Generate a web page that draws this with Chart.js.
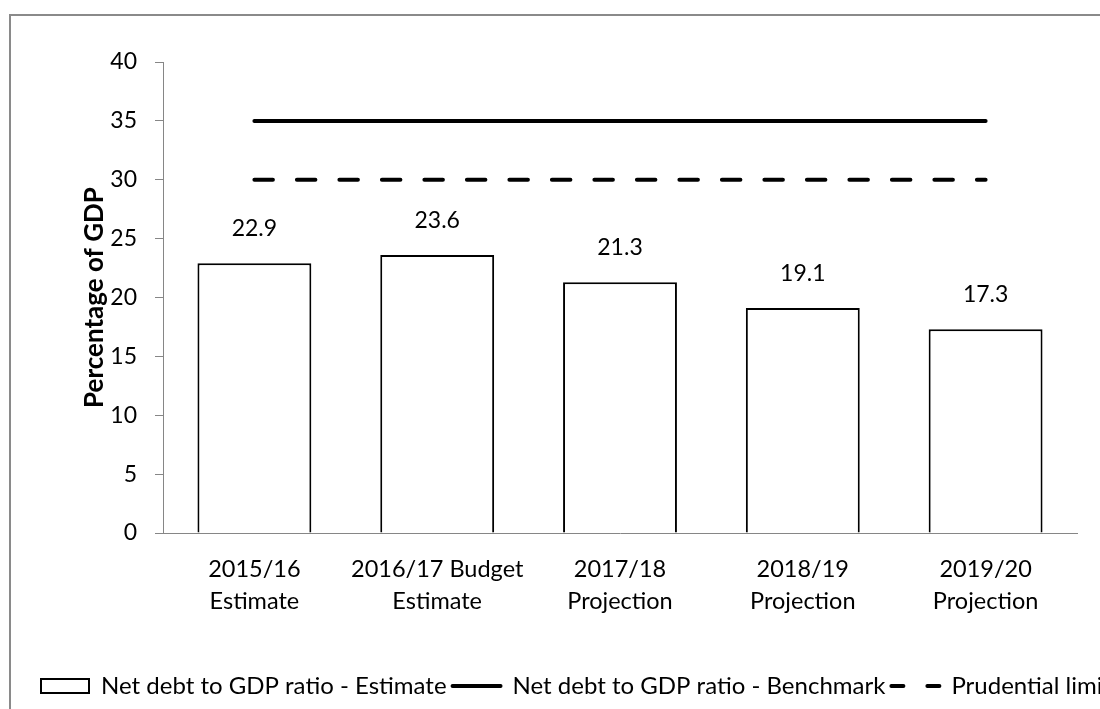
<!DOCTYPE html>
<html>
<head>
<meta charset="utf-8">
<script src="https://cdn.jsdelivr.net/npm/chart.js@4/dist/chart.umd.min.js"></script>
<style>
  html, body { margin: 0; padding: 0; background: #fff; overflow: hidden; }
  canvas { display: block; }
</style>
</head>
<body>
<canvas id="c" width="1300" height="740"></canvas>
<script>
// Net debt to GDP, percent
const categories = [
  ['2015/16', 'Estimate'],
  ['2016/17 Budget', 'Estimate'],
  ['2017/18', 'Projection'],
  ['2018/19', 'Projection'],
  ['2019/20', 'Projection']
];
const estimateValues = [22.9, 23.6, 21.3, 19.1, 17.3];
const benchmarkValues = [35, 35, 35, 35, 35];
const prudentialValues = [30, 30, 30, 30, 30];
const yTicks = [0, 5, 10, 15, 20, 25, 30, 35, 40];

const seriesNames = [
  'Net debt to GDP ratio - Estimate',
  'Net debt to GDP ratio - Benchmark',
  'Prudential limit'
];

const FONT = 'Lato, "Open Sans", sans-serif';
const AXIS_GREY = '#868686';
const CANVAS_W = 1300;
const PLOT_RIGHT = 1077;
const LEGEND_FONT = 24;
const LEGEND_PAD = 6;

// Grey outer frame of the chart object
const framePlugin = {
  id: 'frame',
  beforeDraw(chart) {
    const ctx = chart.ctx;
    ctx.save();
    ctx.strokeStyle = '#8a8a8a';
    ctx.lineWidth = 2;
    ctx.strokeRect(10, 15, 3000, 3000);
    ctx.restore();
  }
};

// Value labels above the bars
const valueLabels = {
  id: 'valueLabels',
  afterDatasetsDraw(chart) {
    const ctx = chart.ctx;
    const meta = chart.getDatasetMeta(0);
    ctx.save();
    ctx.font = '23px ' + FONT;
    ctx.fillStyle = '#000';
    ctx.textAlign = 'center';
    ctx.textBaseline = 'middle';
    meta.data.forEach((bar, i) => {
      ctx.fillText(estimateValues[i].toFixed(1), bar.x, bar.y - 35);
    });
    ctx.restore();
  }
};

new Chart(document.getElementById('c'), {
  data: {
    labels: categories,
    datasets: [
      {
        type: 'bar',
        label: seriesNames[0],
        data: estimateValues,
        backgroundColor: '#ffffff',
        borderColor: '#000000',
        borderWidth: 2,
        categoryPercentage: 1,
        barPercentage: 0.623,
        order: 2
      },
      {
        type: 'line',
        label: seriesNames[1],
        data: benchmarkValues,
        borderColor: '#000000',
        borderWidth: 4,
        borderCapStyle: 'round',
        pointRadius: 0,
        fill: false,
        order: 1
      },
      {
        type: 'line',
        label: seriesNames[2],
        data: prudentialValues,
        borderColor: '#000000',
        borderWidth: 4,
        borderCapStyle: 'round',
        borderDash: [18.5, 24],
        pointRadius: 0,
        fill: false,
        order: 1
      }
    ]
  },
  options: {
    responsive: false,
    animation: false,
    devicePixelRatio: 1,
    layout: { padding: { left: 35, top: 62, right: 0, bottom: 32 } },
    plugins: {
      tooltip: { enabled: false },
      legend: {
        position: 'bottom',
        align: 'start',
        labels: {
          color: '#000',
          font: { family: FONT, size: LEGEND_FONT },
          padding: LEGEND_PAD,
          usePointStyle: true,
          pointStyleWidth: 48,
          boxHeight: 14,
          generateLabels(chart) {
            return chart.data.datasets.map((ds, i) => ({
              text: ds.label,
              datasetIndex: i,
              fillStyle: i === 0 ? '#ffffff' : 'rgba(0,0,0,0)',
              strokeStyle: '#000000',
              lineWidth: i === 0 ? 2 : 4,
              lineCap: i === 0 ? 'butt' : 'round',
              lineDash: i === 2 ? [12, 24] : [],
              pointStyle: i === 0 ? 'rect' : 'line',
              hidden: false
            }));
          }
        }
      }
    },
    scales: {
      x: {
        grid: { display: false, drawTicks: false },
        border: { display: true, color: AXIS_GREY, width: 1 },
        ticks: {
          color: '#000',
          font: { family: FONT, size: 23.5, lineHeight: 32 / 23.5 },
          padding: 20,
          maxRotation: 0,
          autoSkip: false
        },
        afterFit(scale) { scale.height = 135; }
      },
      y: {
        position: 'left',
        min: 0,
        max: 40,
        afterBuildTicks(scale) { scale.ticks = yTicks.map(v => ({ value: v })); },
        grid: { display: true, drawOnChartArea: false, drawTicks: true, tickLength: 8, color: AXIS_GREY },
        border: { display: true, color: AXIS_GREY, width: 1 },
        ticks: {
          color: '#000',
          font: { family: FONT, size: 23 },
          padding: 18
        },
        title: {
          display: true,
          text: 'Percentage of GDP',
          color: '#000',
          font: { family: FONT, size: 26, weight: 'bold' },
          padding: { top: 44, bottom: 0 }
        },
        afterFit(scale) { scale.width = 128; }
      },
      yRight: {
        position: 'right',
        display: true,
        min: 0,
        max: 40,
        grid: { display: false },
        border: { display: false },
        ticks: { display: false },
        afterFit(scale) { scale.width = CANVAS_W - PLOT_RIGHT; }
      }
    }
  },
  plugins: [framePlugin, valueLabels]
});
</script>
</body>
</html>
